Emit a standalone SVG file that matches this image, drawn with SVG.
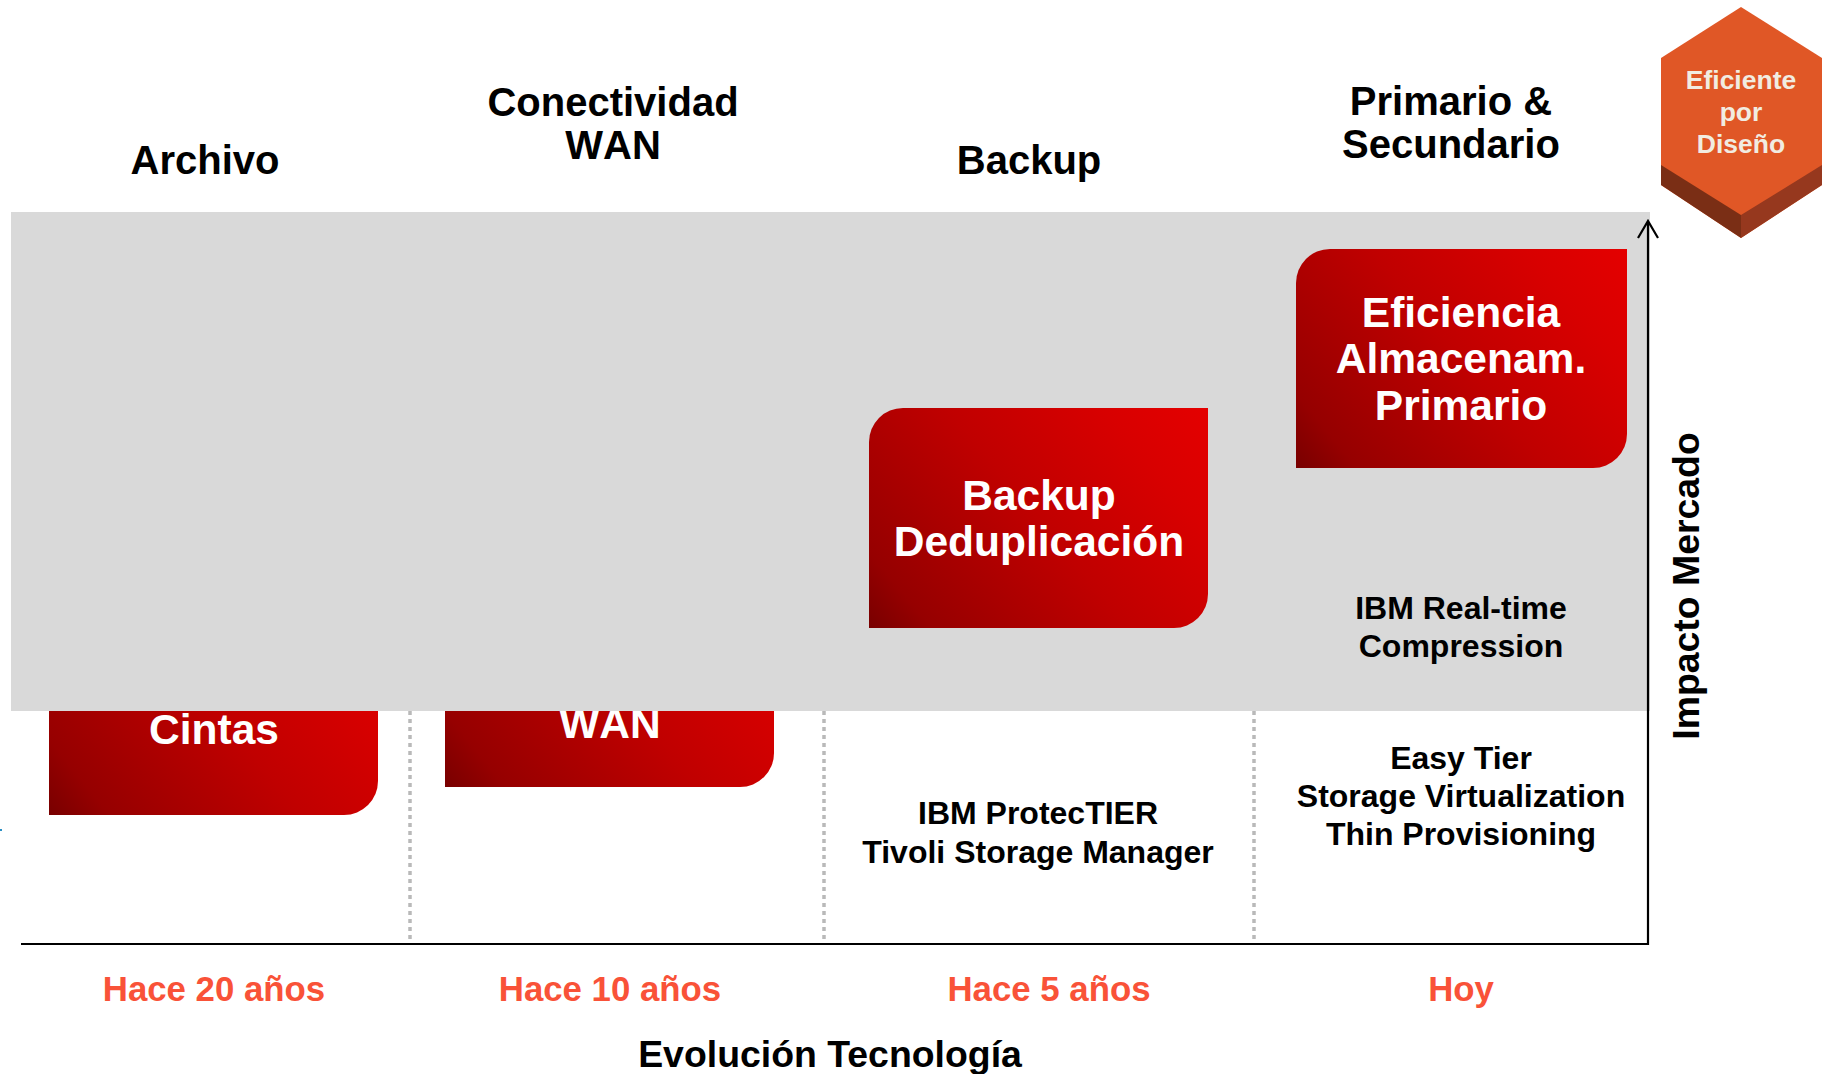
<svg xmlns="http://www.w3.org/2000/svg" width="1827" height="1074" viewBox="0 0 1827 1074">
<style>
text{font-family:"Liberation Sans",Arial,sans-serif;font-weight:700;text-anchor:middle}
.h{font-size:40px;fill:#000}
.b{font-size:42.5px;fill:#fff}
.s{font-size:32px;fill:#000}
.t{font-size:34.8px;fill:#f95238}
.x{font-size:37.4px;fill:#000}
.e{font-size:26.5px;fill:#f1ece1}
.nk{font-kerning:none}
.box{fill:url(#g)}
.dot{stroke:#b9b9b9;stroke-width:3.5;stroke-dasharray:4 4;fill:none}
.ax{stroke:#000;stroke-width:2.2;fill:none}
</style>
<defs>
<linearGradient id="g" x1="0" y1="1" x2="1.19" y2="0.36"><stop offset="0" stop-color="#780000"/><stop offset=".12" stop-color="#960000"/><stop offset=".5" stop-color="#c00000"/><stop offset=".8" stop-color="#d80000"/><stop offset="1" stop-color="#e40000"/></linearGradient>
</defs>
<rect width="1827" height="1074" fill="#fff"/>
<rect x="0" y="829" width="2" height="2" fill="#2a8fc4"/>
<g id="node-cintas"><path class="box" d="M49 595H378V781A34 34 0 0 1 344 815H49Z"/><text class="b" x="214" y="744">Cintas</text></g>
<g id="node-wan"><path class="box" d="M445 567H774V753A34 34 0 0 1 740 787H445Z"/><text class="b nk" x="610" y="738">WAN</text></g>
<rect id="panel" x="11" y="212" width="1639" height="499" fill="#d9d9d9"/>
<g id="connectors">
<path class="dot" d="M410 711V943M824 711V943M1254 711V943"/>
<path class="ax" d="M21 944H1648V221M1638 238L1648 221L1658 238"/>
</g>
<g id="node-backup"><path class="box" d="M869 628V442A34 34 0 0 1 903 408H1208V594A34 34 0 0 1 1174 628Z"/><text class="b"><tspan x="1039" y="510">Backup</tspan><tspan x="1039" y="556">Deduplicación</tspan></text></g>
<g id="node-primario"><path class="box" d="M1296 468V283A34 34 0 0 1 1330 249H1627V434A34 34 0 0 1 1593 468Z"/><text class="b"><tspan x="1461" y="327">Eficiencia</tspan><tspan x="1461" y="373">Almacenam.</tspan><tspan x="1461" y="420">Primario</tspan></text></g>
<g id="node-hex"><path d="M1741 7L1822 58V185L1741 238L1661 185V58Z" fill="#e05726"/><path d="M1661 165L1741 215V238L1661 185Z" fill="#7a2e15"/><path d="M1741 215L1822 165V185L1741 238Z" fill="#96381e"/><text class="e" x="1741" y="89">Eficiente</text><text class="e" x="1741" y="121">por</text><text class="e" x="1741" y="153">Diseño</text></g>
<g id="titles">
<text class="h" x="205" y="174">Archivo</text>
<text class="h"><tspan x="613" y="116">Conectividad</tspan><tspan class="nk" x="613" y="159">WAN</tspan></text>
<text class="h" x="1029" y="174">Backup</text>
<text class="h"><tspan x="1451" y="115">Primario &amp;</tspan><tspan x="1451" y="158">Secundario</tspan></text>
</g>
<g id="labels">
<text class="s"><tspan x="1461" y="619">IBM Real-time</tspan><tspan x="1461" y="657">Compression</tspan></text>
<text class="s"><tspan x="1461" y="769">Easy Tier</tspan><tspan x="1461" y="807">Storage Virtualization</tspan><tspan x="1461" y="845">Thin Provisioning</tspan></text>
<text class="s"><tspan x="1038" y="824">IBM ProtecTIER</tspan><tspan x="1038" y="863">Tivoli Storage Manager</tspan></text>
<text class="t" x="214" y="1001">Hace 20 años</text>
<text class="t" x="610" y="1001">Hace 10 años</text>
<text class="t" x="1049" y="1001">Hace 5 años</text>
<text class="t" x="1461" y="1001">Hoy</text>
<text class="x" x="830" y="1067">Evolución Tecnología</text>
<text class="x" transform="translate(1699 586) rotate(-90)">Impacto Mercado</text>
</g>
</svg>
